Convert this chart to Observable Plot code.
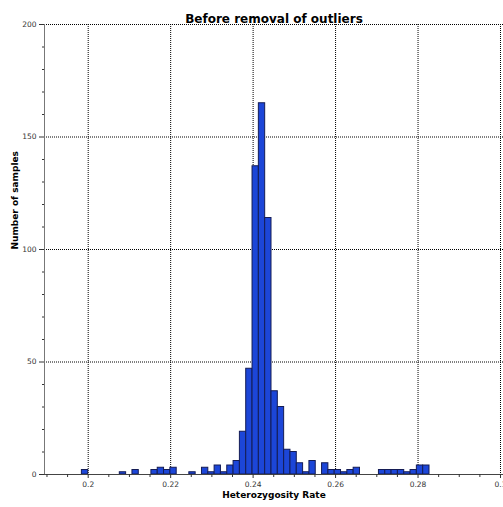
<!DOCTYPE html>
<html>
<head>
<meta charset="utf-8">
<script src="https://cdn.jsdelivr.net/npm/d3@7"></script>
<script src="https://cdn.jsdelivr.net/npm/@observablehq/plot@0.6"></script>
<style>
  html, body { margin: 0; padding: 0; background: #fff; }
  #chart svg { display: block; }
</style>
</head>
<body>
<div id="chart"></div>
<script>
// ---- data ----
const title = "Before removal of outliers";
const xLabel = "Heterozygosity Rate";
const yLabel = "Number of samples";
const binStart = 0.18927;   // left edge of first bin
const binWidth = 0.001533;  // histogram bin width
const counts = [
  0, 0, 0, 0, 0, 0, 2,
  0, 0, 0, 0, 0, 1, 0, 2, 0, 0,
  2, 3, 2, 3, 0, 0, 1, 0,
  3, 1, 4, 1, 4, 6,
  19, 47, 137, 165, 114, 37, 30,
  11, 10, 5, 1, 6, 0,
  5, 2, 2, 1, 2, 3,
  0, 0, 0,
  2, 2, 2, 2, 1, 2, 4, 4,
  0, 0, 0, 0, 0, 0, 0, 0, 0, 0, 0, 0
];
const xMajorTicks = [0.2, 0.22, 0.24, 0.26, 0.28, 0.3];
const xMinorTicks = [0.19, 0.195, 0.205, 0.21, 0.215, 0.225, 0.23, 0.235, 0.245, 0.25, 0.255,
                     0.265, 0.27, 0.275, 0.285, 0.29, 0.295];
const yMajorTicks = [0, 50, 100, 150, 200];
const yMinorTicks = [10, 20, 30, 40, 60, 70, 80, 90, 110, 120, 130, 140, 160, 170, 180, 190];
const xDomain = [0.1894, 0.30073];
const yDomain = [0, 200];

const bins = counts.map((c, i) => ({x1: binStart + i * binWidth, x2: binStart + (i + 1) * binWidth, n: c}));
const font = "DejaVu Sans, Verdana, sans-serif";

const chart = Plot.plot({
  width: 503,
  height: 507,
  marginLeft: 44,
  marginRight: 0,
  marginTop: 24,
  marginBottom: 33,
  style: {fontFamily: font, background: "#fff", overflow: "visible"},
  x: {domain: xDomain},
  y: {domain: yDomain},
  marks: [
    Plot.gridX(xMajorTicks, {stroke: "#000", strokeOpacity: 1, strokeDasharray: "1,1"}),
    Plot.gridY(yMajorTicks.filter(d => d > 0), {stroke: "#000", strokeOpacity: 1, strokeDasharray: "1,1"}),
    Plot.rectY(bins, {x1: "x1", x2: "x2", y: "n", fill: "#1c46d8", stroke: "#141c55", strokeWidth: 1, clip: true}),
    Plot.ruleX([xDomain[0]], {stroke: "#777"}),
    Plot.ruleY([0], {stroke: "#444"}),
    Plot.axisX(xMajorTicks, {tickSize: 4, tickPadding: 3, fontSize: 7.5, color: "#333", tickFormat: d => String(+d.toFixed(2)), label: null}),
    Plot.axisX(xMinorTicks, {tickSize: 3, text: null, label: null, stroke: "#333"}),
    Plot.axisY(yMajorTicks, {tickSize: 5, tickPadding: 3, fontSize: 7.5, color: "#333", label: null}),
    Plot.axisY(yMinorTicks, {tickSize: 2, text: null, label: null, stroke: "#333"}),
    Plot.text([title], {text: d => d, frameAnchor: "top", dy: -10, fontSize: 12, fontWeight: "bold", fill: "#000"}),
    Plot.text([xLabel], {text: d => d, frameAnchor: "bottom", dy: 23, fontSize: 9, fontWeight: "bold", fill: "#000"}),
    Plot.text([yLabel], {text: d => d, frameAnchor: "left", dx: -29, rotate: -90, fontSize: 9, fontWeight: "bold", fill: "#000"})
  ]
});
document.getElementById("chart").appendChild(chart);
</script>
</body>
</html>
